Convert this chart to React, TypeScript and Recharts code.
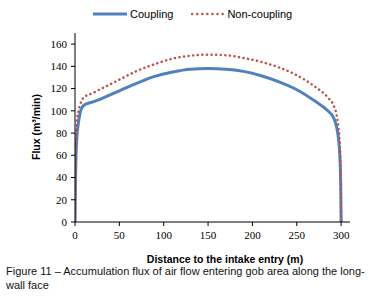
import { Legend, Line, LineChart, XAxis, YAxis } from "recharts";

// distance along the face (m)
const distance = [0, 0.5, 1, 2, 4, 6, 8, 10, 20, 30, 50, 70, 90, 110, 130, 150, 170, 190, 210, 230, 250, 270, 285, 292, 295, 297, 298.5, 299.5, 300];
// accumulation flux (m3/min)
const coupling = [0, 35, 55, 75, 90, 99, 103, 105, 108, 111, 118, 125, 131, 135, 137.5, 138, 137.5, 135.5, 131.5, 126, 119, 109, 100, 93, 85, 75, 60, 35, 0];
const nonCoupling = [0, 50, 70, 88, 100, 106, 110, 112, 116, 120, 128, 136, 142, 147, 149.5, 150.5, 150, 147.5, 144, 139, 132, 122, 112, 104, 96, 85, 70, 40, 0];

const xTicks = [0, 50, 100, 150, 200, 250, 300];
const yTicks = [0, 20, 40, 60, 80, 100, 120, 140, 160];

const BLUE = "#4F81BD";
const RED = "#C0504D";

const data = distance.map((x, i) => ({ x, coupling: coupling[i], nonCoupling: nonCoupling[i] }));

function LegendRow() {
  return (
    <div style={{ display: "flex", alignItems: "center", fontFamily: "Liberation Sans, Arial", fontSize: 11, color: "#000" }}>
      <svg width={36} height={8} style={{ marginLeft: 93 }}>
        <line x1={0} y1={4} x2={34} y2={4} stroke={BLUE} strokeWidth={3} />
      </svg>
      <span style={{ marginLeft: 1 }}>Coupling</span>
      <svg width={34} height={8} style={{ marginLeft: 18 }}>
        <line x1={1} y1={4} x2={32} y2={4} stroke={RED} strokeWidth={2.5} strokeDasharray="0.1 5" strokeLinecap="round" />
      </svg>
      <span style={{ marginLeft: 2 }}>Non-coupling</span>
    </div>
  );
}

export default function App() {
  const tickStyle = { fontSize: 11, fontFamily: "Liberation Serif, Times New Roman", fill: "#000" };
  const titleStyle = { fontFamily: "Liberation Sans, Arial", fontWeight: "bold", fontSize: 10.5, fill: "#000" };
  return (
    <div style={{ position: "absolute", left: 0, top: 0, width: 376, height: 308, background: "#fff" }}>
      <LineChart width={376} height={308} data={data} margin={{ top: 21, right: 26, bottom: 56, left: 0 }}>
        <XAxis
          dataKey="x"
          type="number"
          domain={[0, 310]}
          ticks={xTicks}
          tick={tickStyle}
          tickSize={4}
          tickMargin={5}
          height={30}
          stroke="#000"
          tickLine={{ stroke: "#000" }}
          allowDataOverflow
        />
        <YAxis
          type="number"
          domain={[0, 170]}
          ticks={yTicks}
          tick={tickStyle}
          tickSize={4}
          tickMargin={4}
          width={75}
          stroke="#000"
          tickLine={{ stroke: "#000" }}
          allowDataOverflow
        />
        <Legend
          verticalAlign="top"
          align="left"
          wrapperStyle={{ top: 8, left: 0, width: 376 }}
          content={() => <LegendRow />}
        />
        <Line
          type="monotone"
          dataKey="coupling"
          stroke={BLUE}
          strokeWidth={3}
          dot={false}
          name="Coupling"
          isAnimationActive={false}
        />
        <Line
          type="monotone"
          dataKey="nonCoupling"
          stroke={RED}
          strokeWidth={2.5}
          strokeDasharray="0.1 4.5"
          strokeLinecap="round"
          dot={false}
          name="Non-coupling"
          isAnimationActive={false}
        />
        <text x={36} y={127} transform="rotate(-90 36 127)" textAnchor="middle" dominantBaseline="central" style={titleStyle}>
          Flux (m³/min)
        </text>
        <text x={225} y={259} textAnchor="middle" dominantBaseline="central" style={titleStyle}>
          Distance to the intake entry (m)
        </text>
      </LineChart>
      <div
        style={{
          position: "absolute",
          left: 6,
          top: 264,
          width: 370,
          fontFamily: "Liberation Sans, Arial",
          fontSize: 11,
          lineHeight: "14px",
          color: "#111",
          whiteSpace: "nowrap",
        }}
      >
        Figure 11 – Accumulation flux of air flow entering gob area along the long-
        <br />
        wall face
      </div>
    </div>
  );
}
